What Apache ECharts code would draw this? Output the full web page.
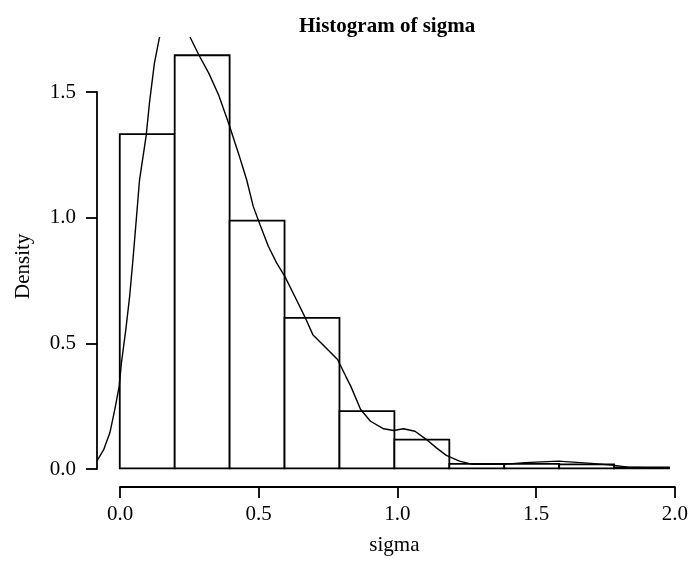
<!DOCTYPE html>
<html>
<head>
<meta charset="utf-8">
<script src="https://cdn.jsdelivr.net/npm/echarts@6/dist/echarts.min.js"></script>
<style>html,body{margin:0;padding:0;background:#fff}#c{width:691px;height:561px}</style>
</head>
<body>
<div id="c"></div>
<script>
// Histogram bin edges and bar densities
const breaks = [0.0, 0.2, 0.4, 0.6, 0.8, 1.0, 1.2, 1.4, 1.6, 1.8, 2.0];
const barDensity = [1.332, 1.646, 0.987, 0.600, 0.228, 0.115, 0.018, 0.018, 0.016, 0.004];
// Kernel density curve (x, density)
const curveX = [-0.11, -0.083, -0.058, -0.036, -0.018, -0.002, 0.006, 0.022, 0.036, 0.048, 0.06, 0.072, 0.096, 0.108, 0.126, 0.144, 0.17, 0.2, 0.23, 0.258, 0.288, 0.324, 0.36, 0.396, 0.432, 0.462, 0.486, 0.511, 0.541, 0.571, 0.601, 0.637, 0.673, 0.703, 0.745, 0.793, 0.823, 0.841, 0.877, 0.913, 0.961, 0.997, 1.033, 1.075, 1.117, 1.153, 1.189, 1.237, 1.285, 1.393, 1.477, 1.597, 1.717, 1.802, 1.85, 1.99];
const curveY = [0.005, 0.03, 0.076, 0.142, 0.235, 0.328, 0.42, 0.553, 0.686, 0.832, 0.99, 1.15, 1.325, 1.455, 1.614, 1.714, 1.82, 1.87, 1.80, 1.714, 1.647, 1.575, 1.488, 1.376, 1.256, 1.15, 1.044, 0.97, 0.885, 0.819, 0.765, 0.686, 0.606, 0.533, 0.487, 0.434, 0.367, 0.328, 0.235, 0.188, 0.158, 0.151, 0.158, 0.148, 0.115, 0.082, 0.052, 0.029, 0.016, 0.016, 0.023, 0.029, 0.02, 0.012, 0.005, 0.001];
// Tick labels
const yTicks = [0, 0.5, 1.0, 1.5];
const xTicks = [0, 0.5, 1.0, 1.5, 2.0];

const FONT = '"Liberation Serif", "DejaVu Serif", serif';
const chart = echarts.init(document.getElementById('c'), null, {renderer: 'canvas'});

const histData = barDensity.map((d, i) => [breaks[i], breaks[i + 1], d]);
const curveData = curveX.map((x, i) => [x, curveY[i]]);

const hiddenAxisParts = {
  axisLine: {show: false}, axisTick: {show: false},
  axisLabel: {show: false}, splitLine: {show: false}
};

chart.setOption({
  animation: false,
  backgroundColor: '#fff',
  title: {
    text: 'Histogram of sigma',
    left: 294, top: 11,
    textStyle: {fontFamily: FONT, fontSize: 21, fontWeight: 'bold', color: '#000'}
  },
  grid: [
    {left: 97.8, top: 37.7, width: 599.4, height: 447.9},
    {left: 97, top: 92, width: 20, height: 377},
    {left: 120, top: 470, width: 555, height: 17}
  ],
  xAxis: [
    Object.assign({type: 'value', gridIndex: 0, min: -0.08, max: 2.08,
      name: 'sigma', nameLocation: 'middle', nameGap: 50,
      nameTextStyle: {fontFamily: FONT, fontSize: 21, color: '#000'}}, hiddenAxisParts),
    Object.assign({type: 'value', gridIndex: 1, min: 0, max: 1, show: false}, hiddenAxisParts),
    {type: 'value', gridIndex: 2, min: 0, max: 2, interval: 0.5, position: 'bottom',
      axisLine: {show: true, onZero: false, lineStyle: {color: '#000', width: 1.8}},
      axisTick: {show: true, inside: false, length: 11, lineStyle: {color: '#000', width: 1.8}},
      axisLabel: {show: true, margin: 17, fontFamily: FONT, fontSize: 21, color: '#000',
        formatter: v => xTicks.includes(v) ? v.toFixed(1) : ''},
      splitLine: {show: false}}
  ],
  yAxis: [
    Object.assign({type: 'value', gridIndex: 0, min: -0.066, max: 1.716,
      name: 'Density', nameLocation: 'middle', nameGap: 64, nameRotate: 90,
      nameTextStyle: {fontFamily: FONT, fontSize: 21, color: '#000', padding: [0, 10, 0, 0]}}, hiddenAxisParts),
    {type: 'value', gridIndex: 1, min: 0, max: 1.5, interval: 0.5, position: 'left',
      axisLine: {show: true, onZero: false, lineStyle: {color: '#000', width: 1.8}},
      axisTick: {show: true, inside: false, length: 11, lineStyle: {color: '#000', width: 1.8}},
      axisLabel: {show: true, margin: 21, fontFamily: FONT, fontSize: 21, color: '#000',
        formatter: v => yTicks.includes(v) ? v.toFixed(1) : ''},
      splitLine: {show: false}},
    Object.assign({type: 'value', gridIndex: 2, min: 0, max: 1, show: false}, hiddenAxisParts)
  ],
  series: [
    {
      type: 'custom', xAxisIndex: 0, yAxisIndex: 0, z: 2,
      data: histData,
      encode: {x: [0, 1], y: 2},
      renderItem: function (params, api) {
        const p0 = api.coord([api.value(0), api.value(2)]);
        const p1 = api.coord([api.value(1), 0]);
        return {
          type: 'rect',
          shape: {x: p0[0], y: p0[1], width: p1[0] - p0[0], height: p1[1] - p0[1]},
          style: {fill: '#fff', stroke: '#000', lineWidth: 1.8}
        };
      }
    },
    {
      type: 'line', xAxisIndex: 0, yAxisIndex: 0, z: 3,
      data: curveData, showSymbol: false, symbol: 'none', smooth: false, clip: true,
      lineStyle: {color: '#000', width: 1.4}
    }
  ]
});
</script>
</body>
</html>
